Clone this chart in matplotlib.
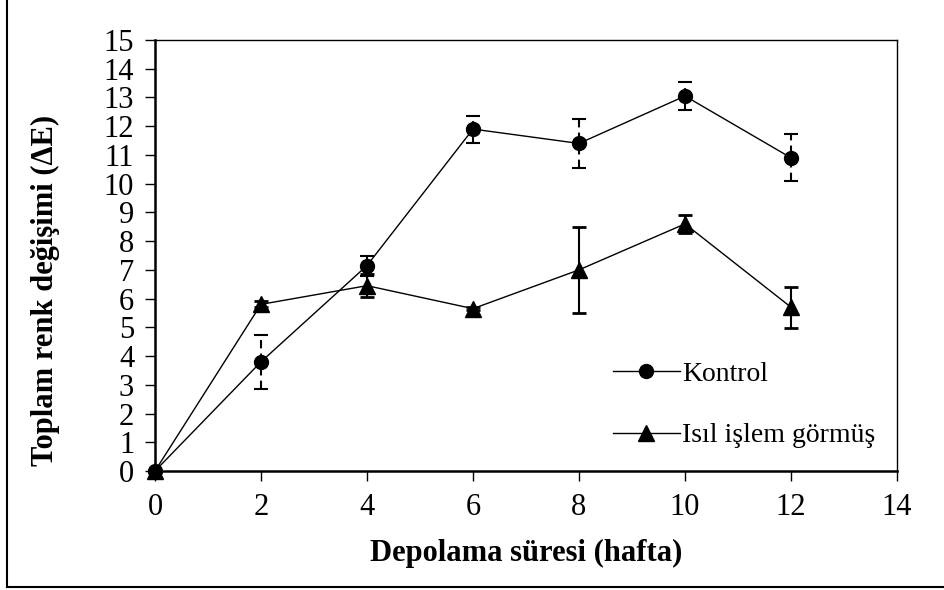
import matplotlib
matplotlib.use("Agg")
import matplotlib.pyplot as plt
from matplotlib.lines import Line2D

plt.rcParams['font.family'] = ['Liberation Serif', 'DejaVu Serif']

weeks = [0, 2, 4, 6, 8, 10, 12]
kontrol = [0.0, 3.8, 7.15, 11.9, 11.4, 13.05, 10.9]
kontrol_err = [0.0, 0.93, 0.35, 0.47, 0.85, 0.5, 0.82]
isil = [0.0, 5.8, 6.45, 5.65, 7.0, 8.6, 5.7]
isil_err = [0.0, 0.1, 0.4, 0.05, 1.5, 0.3, 0.72]

xticks = [0, 2, 4, 6, 8, 10, 12, 14]
yticks = list(range(0, 16))

fig = plt.figure(figsize=(9.45, 5.9), dpi=100)
ax = fig.add_axes([155 / 945, 1 - 471 / 590, 742 / 945, 431 / 590])

# Kontrol: circles with dashed error bars
eb1 = ax.errorbar(weeks, kontrol, yerr=kontrol_err, fmt='-o', color='black',
                  lw=1, ms=10, capsize=5, capthick=1.5, elinewidth=1.5,
                  ecolor='black', zorder=3)
eb1[2][0].set_linestyle((0, (4, 2.5)))

# Isıl işlem görmüş: triangles with solid error bars
ax.errorbar(weeks, isil, yerr=isil_err, fmt='-^', color='black',
            lw=1, ms=12, capsize=5, capthick=2, elinewidth=1.5,
            ecolor='black', zorder=3)

ax.set_xlim(0, 14)
ax.set_ylim(0, 15)
ax.set_xticks(xticks)
ax.set_yticks(yticks)
ax.tick_params(axis='both', direction='out', labelsize=22, width=1, length=7)
ax.tick_params(axis='x', pad=9)
ax.tick_params(axis='y', pad=8, width=1)
for side in ['left', 'bottom']:
    ax.spines[side].set_linewidth(1.8)
for side in ['top', 'right']:
    ax.spines[side].set_linewidth(1)
for art in ax.lines:
    art.set_clip_on(False)
for coll in ax.collections:
    coll.set_clip_on(False)

ax.set_xlabel('Depolama süresi (hafta)', fontsize=22, fontweight='bold', labelpad=12)
ax.set_ylabel('Toplam renk değişimi (ΔE)', fontsize=22, fontweight='bold')
ax.yaxis.set_label_coords(-0.128, 0.418)

handles = [Line2D([], [], color='black', lw=1, marker='o', ms=10),
           Line2D([], [], color='black', lw=1, marker='^', ms=12)]
ax.legend(handles, ['Kontrol', 'Isıl işlem görmüş'], loc='lower right',
          bbox_to_anchor=(0.99, 0.02), frameon=False, fontsize=20,
          handlelength=2.4, handletextpad=0.1, labelspacing=1.3,
          borderpad=0)

# Outer frame lines along left and bottom edges
fig.add_artist(Line2D([7 / 945, 7 / 945], [3 / 590, 1.0], color='black', lw=1.5,
                      transform=fig.transFigure))
fig.add_artist(Line2D([7 / 945, 1.0], [3 / 590, 3 / 590], color='black', lw=1.5,
                      transform=fig.transFigure))

fig.savefig('out.png', dpi=100)
